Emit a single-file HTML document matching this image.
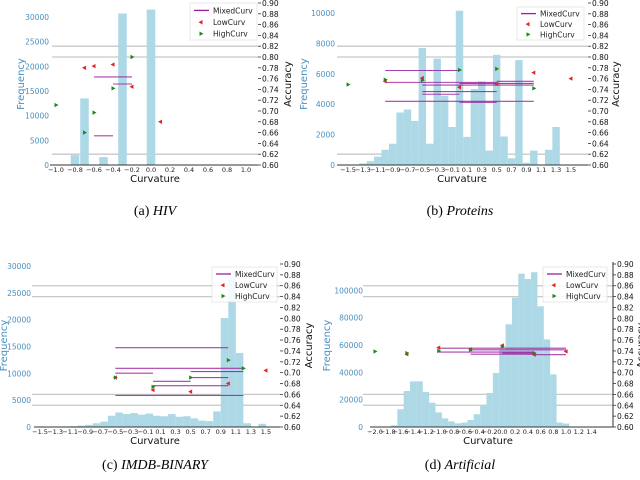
<!DOCTYPE html>
<html><head><meta charset="utf-8"><style>
body{margin:0;background:#fff;width:640px;height:480px;overflow:hidden}
svg{display:block}
.cap{font-family:"Liberation Serif",serif;font-size:14px}
</style></head><body>
<svg id="fig" width="640" height="480" xmlns="http://www.w3.org/2000/svg">
<text class="cap" x="155" y="215" text-anchor="middle">(a) <tspan font-style="italic">HIV</tspan></text>
<text class="cap" x="460" y="215" text-anchor="middle">(b) <tspan font-style="italic">Proteins</tspan></text>
<text class="cap" x="155" y="469" text-anchor="middle">(c) <tspan font-style="italic">IMDB-BINARY</tspan></text>
<text class="cap" x="460" y="469" text-anchor="middle">(d) <tspan font-style="italic">Artificial</tspan></text>
</svg>
<script>
// ---- shared ----
const accTicks=[0.60,0.62,0.64,0.66,0.68,0.70,0.72,0.74,0.76,0.78,0.80,0.82,0.84,0.86,0.88,0.90];
// ---- (a) HIV ----
const aBinCenters=[-0.8,-0.7,-0.5,-0.3,0.0];
const aBinCounts=[2000,13500,1600,30700,31500];
const aLowX=[-0.7,-0.6,-0.4,-0.2,0.1];
const aLowAcc=[0.780,0.783,0.786,0.745,0.680];
const aHighX=[-1.0,-0.7,-0.6,-0.4,-0.2];
const aHighAcc=[0.711,0.660,0.697,0.742,0.800];
const aMixX0=[-0.6,-0.4,-0.6];
const aMixX1=[-0.2,-0.2,-0.4];
const aMixAcc=[0.763,0.750,0.654];
const aBaseAcc=[0.820,0.800,0.620];
const aXTicks=[-1.0,-0.8,-0.6,-0.4,-0.2,0.0,0.2,0.4,0.6,0.8,1.0];
const aFreqTicks=[0,5000,10000,15000,20000,25000,30000];
// ---- (b) Proteins ----
const bBinCenters=[-1.3,-1.2,-1.1,-1.0,-0.9,-0.8,-0.7,-0.6,-0.5,-0.4,-0.3,-0.2,-0.1,0.0,0.1,0.2,0.3,0.4,0.5,0.6,0.7,0.8,0.9,1.0,1.1,1.2,1.3];
const bBinCounts=[100,250,550,1000,1400,3450,3650,2900,7700,1400,7000,4550,2500,10150,1850,5000,5500,950,7250,1870,440,6900,150,950,0,1000,2500];
const bLowX=[-1.0,-0.5,0.0,0.5,1.0,1.5];
const bLowAcc=[0.755,0.761,0.744,0.750,0.771,0.760];
const bHighX=[-1.5,-1.0,-0.5,0.0,0.5,1.0];
const bHighAcc=[0.749,0.758,0.757,0.776,0.778,0.742];
const bMixX0=[-1.0,-1.0,0.5,0.0,-0.5,-0.5,-0.5,-1.0,0.0];
const bMixX1=[0.0,0.5,1.0,1.0,1.0,0.5,0.0,1.0,0.5];
const bMixAcc=[0.775,0.753,0.755,0.751,0.748,0.736,0.731,0.718,0.716];
const bBaseAcc=[0.820,0.800,0.620];
const bXTicks=[-1.5,-1.3,-1.1,-0.9,-0.7,-0.5,-0.3,-0.1,0.1,0.3,0.5,0.7,0.9,1.1,1.3,1.5];
const bFreqTicks=[0,2000,4000,6000,8000,10000];
// ---- (c) IMDB-BINARY ----
const cBinCenters=[-1.45,-1.35,-1.25,-1.15,-1.05,-0.95,-0.85,-0.75,-0.65,-0.55,-0.45,-0.35,-0.25,-0.15,-0.05,0.05,0.15,0.25,0.35,0.45,0.55,0.65,0.75,0.85,0.95,1.05,1.15,1.25,1.35,1.45];
const cBinCounts=[30,50,80,100,150,250,400,700,1000,2100,2700,2400,2600,2300,2500,2100,2000,2400,1900,2000,1600,1200,1100,2900,20300,28000,13800,700,0,600];
const cLowX=[-0.5,0.0,0.5,1.0,1.5];
const cLowAcc=[0.691,0.668,0.665,0.680,0.704];
const cHighX=[-0.5,0.0,0.5,1.0,1.2];
const cHighAcc=[0.691,0.674,0.691,0.723,0.708];
const cMixX0=[-0.5,-0.5,0.5,-0.5,0.5,0.0,0.0,-0.5];
const cMixX1=[1.0,1.2,1.2,0.0,1.0,0.5,1.0,1.2];
const cMixAcc=[0.746,0.708,0.702,0.699,0.691,0.684,0.676,0.658];
const cBaseAcc=[0.860,0.840,0.660,0.640];
const cXTicks=[-1.5,-1.3,-1.1,-0.9,-0.7,-0.5,-0.3,-0.1,0.1,0.3,0.5,0.7,0.9,1.1,1.3,1.5];
const cFreqTicks=[0,5000,10000,15000,20000,25000,30000];
// ---- (d) Artificial ----
const dBinCenters=[-1.7,-1.6,-1.5,-1.4,-1.3,-1.2,-1.1,-1.0,-0.9,-0.8,-0.7,-0.6,-0.5,-0.4,-0.3,-0.2,-0.1,0.0,0.1,0.2,0.3,0.4,0.5,0.6,0.7,0.8,0.9,1.0];
const dBinCounts=[1200,13000,26300,33400,33400,25600,17800,10700,6300,4100,2700,3200,5100,9300,15900,24900,39500,56800,75100,94600,112200,108300,113200,88300,64100,38500,3200,2500];
const dLowX=[-1.5,-1.0,-0.5,0.0,0.5,1.0];
const dLowAcc=[0.734,0.746,0.743,0.750,0.733,0.739];
const dHighX=[-2.0,-1.5,-1.0,-0.5,0.0,0.5];
const dHighAcc=[0.739,0.736,0.740,0.742,0.748,0.736];
const dMixX0=[-1.0,-0.5,-1.0,0.0,-0.5,0.5];
const dMixX1=[1.0,1.0,0.5,0.5,0.5,1.0];
const dMixAcc=[0.745,0.742,0.738,0.736,0.734,0.733];
const dBaseAcc=[0.860,0.840,0.660,0.640];
const dXTicks=[-2.0,-1.8,-1.6,-1.4,-1.2,-1.0,-0.8,-0.6,-0.4,-0.2,0.0,0.2,0.4,0.6,0.8,1.0,1.2,1.4];
const dFreqTicks=[0,20000,40000,60000,80000,100000];

const NS='http://www.w3.org/2000/svg';
const svg=document.getElementById('fig');
function mk(tag,attrs,parent){const e=document.createElementNS(NS,tag);for(const k in attrs)e.setAttribute(k,attrs[k]);(parent||svg).appendChild(e);return e;}
function fmt(v,d){return (v<0?'\u2212':'')+Math.abs(v).toFixed(d);}

function panel(id,g,binC,binN,binW,lowX,lowA,highX,highA,m0,m1,mA,base,xt,ft,leg){
  const G=mk('g',{});
  
  
  const X=v=>g.x0+g.xs*v;
  const YF=f=>g.yb-f*g.fs;
  const YA=a=>g.yb-(a-0.6)/0.3*(g.yb-g.yt);
  base.forEach((a,i)=>{const l=mk('line',{x1:g.gl,x2:g.gr,y1:YA(a),y2:YA(a),stroke:'#c8c8c8','stroke-width':1.3},G);
    
    });
  binC.forEach((c,i)=>{const r=mk('rect',{x:X(c-binW/2),y:YF(binN[i]),width:Math.max(0,X(c+binW/2)-X(c-binW/2)),height:g.yb-YF(binN[i]),fill:'#add8e6'},G);
    
    });
  const ax=mk('line',{x1:g.al,x2:g.gr,y1:g.yb,y2:g.yb,stroke:'#333','stroke-width':1},G);
  
  
  if(g.rspine){const rs=mk('line',{x1:g.gr,x2:g.gr,y1:g.yt-2,y2:g.yb,stroke:'#555','stroke-width':1.2},G);
    
    }
  xt.forEach((v,i)=>{const t=mk('text',{x:X(v),y:g.yb+7,'font-size':6.5,'text-anchor':'middle','font-family':'DejaVu Sans,sans-serif',fill:'#222'},G);
    t.textContent=fmt(v,1);
    
    });
  ft.forEach((v,i)=>{const t=mk('text',{x:g.fl,y:YF(v)+3,'font-size':7.5,'text-anchor':'end','font-family':'DejaVu Sans,sans-serif',fill:'#4a90c0'},G);
    t.textContent=String(v);
    
    });
  accTicks.forEach((v,i)=>{mk('line',{x1:g.gr,x2:g.gr+3,y1:YA(v),y2:YA(v),stroke:'#333','stroke-width':0.8},G);
    const t=mk('text',{x:g.gr+4,y:YA(v)+3,'font-size':7.5,'font-family':'DejaVu Sans,sans-serif',fill:'#111'},G);
    t.textContent=v.toFixed(2);
    
    });
  mA.forEach((a,i)=>{const l=mk('line',{x1:X(m0[i]),x2:X(m1[i]),y1:YA(a),y2:YA(a),stroke:'#9b1f9b','stroke-width':1.1,'stroke-opacity':0.85},G);
    
    });
  lowX.forEach((v,i)=>{const x=X(v),y=YA(lowA[i]);
    const p=mk('polygon',{points:`${x-2.5},${y} ${x+1.5},${y-2.2} ${x+1.5},${y+2.2}`,fill:'#e82020'},G);
    
    });
  highX.forEach((v,i)=>{const x=X(v),y=YA(highA[i]);
    const p=mk('polygon',{points:`${x+2.5},${y} ${x-1.5},${y-2.2} ${x-1.5},${y+2.2}`,fill:'#1a8a1a'},G);
    
    });
  const ct=mk('text',{x:g.cx,y:g.yb+17,'font-size':10,'text-anchor':'middle','font-family':'DejaVu Sans,sans-serif',fill:'#111'},G);
  ct.textContent='Curvature';
  
  
  const my=(g.yb+g.yt)/2;
  const ft2=mk('text',{x:0,y:0,transform:`translate(${g.ftx},${my}) rotate(-90)`,'font-size':10,'text-anchor':'middle','font-family':'DejaVu Sans,sans-serif',fill:'#4a90c0'},G);
  ft2.textContent='Frequency';
  
  
  const at=mk('text',{x:0,y:0,transform:`translate(${g.atx},${my}) rotate(-90)`,'font-size':10,'text-anchor':'middle','font-family':'DejaVu Sans,sans-serif',fill:'#111'},G);
  at.textContent='Accuracy';
  
  
  const L=mk('g',{},G);
  
  
  mk('rect',{x:leg[0],y:leg[1],width:leg[2],height:leg[3],fill:'#fff','fill-opacity':0.85,stroke:'#ddd','stroke-width':0.6},L);
  const ly=[leg[1]+leg[3]*0.2,leg[1]+leg[3]*0.52,leg[1]+leg[3]*0.83];
  mk('line',{x1:leg[0]+4,x2:leg[0]+19,y1:ly[0],y2:ly[0],stroke:'#9b1f9b','stroke-width':1.3},L);
  let lx=leg[0]+11;
  mk('polygon',{points:`${lx-2.5},${ly[1]} ${lx+1.5},${ly[1]-2.2} ${lx+1.5},${ly[1]+2.2}`,fill:'#e82020'},L);
  mk('polygon',{points:`${lx+2.5},${ly[2]} ${lx-1.5},${ly[2]-2.2} ${lx-1.5},${ly[2]+2.2}`,fill:'#1a8a1a'},L);
  ['MixedCurv','LowCurv','HighCurv'].forEach((s,i)=>{const t=mk('text',{x:leg[0]+23,y:ly[i]+3,'font-size':7.5,'font-family':'DejaVu Sans,sans-serif',fill:'#222'},L);
    t.textContent=s;
    
    });
}
panel('a',{x0:151,xs:95,yb:165,yt:3,fs:148/30000,gl:52,gr:258,al:50,fl:49,cx:155,ftx:24,atx:291},
  aBinCenters,aBinCounts,0.09,aLowX,aLowAcc,aHighX,aHighAcc,aMixX0,aMixX1,aMixAcc,aBaseAcc,aXTicks,aFreqTicks,[190,3,67,37]);
panel('b',{x0:459.5,xs:74.3,yb:165,yt:3,fs:152/10000,gl:337,gr:588,al:337,fl:335,cx:462,ftx:307,atx:619},
  bBinCenters,bBinCounts,0.1,bLowX,bLowAcc,bHighX,bHighAcc,bMixX0,bMixX1,bMixAcc,bBaseAcc,bXTicks,bFreqTicks,[517,7,67,33]);
panel('c',{x0:153,xs:75.3,yb:427,yt:264,fs:161/30000,gl:32,gr:280,al:34,fl:31,cx:155,ftx:7,atx:312},
  cBinCenters,cBinCounts,0.1,cLowX,cLowAcc,cHighX,cHighAcc,cMixX0,cMixX1,cMixAcc,cBaseAcc,cXTicks,cFreqTicks,[212,267,65,35]);
panel('d',{x0:502.4,xs:63.7,yb:427,yt:264,fs:136.7/100000,gl:363,gr:613,al:370,fl:363,cx:488,ftx:330,atx:644,rspine:true},
  dBinCenters,dBinCounts,0.1,dLowX,dLowAcc,dHighX,dHighAcc,dMixX0,dMixX1,dMixAcc,dBaseAcc,dXTicks,dFreqTicks,[543,267,64,35]);
</script>
</body></html>
